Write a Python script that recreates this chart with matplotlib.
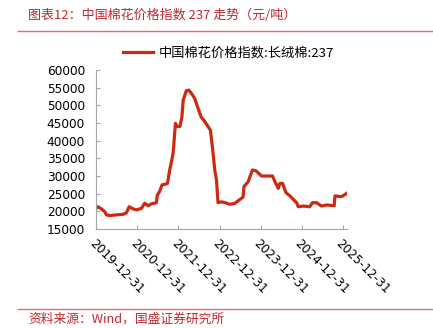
import matplotlib
matplotlib.use("Agg")
import matplotlib.pyplot as plt
import pandas as pd

plt.rcParams['font.family'] = ['Noto Sans CJK SC', 'DejaVu Sans']

dates = [
    "2019-12-28", "2020-01-15", "2020-02-14", "2020-03-15", "2020-03-30", "2020-04-28",
    "2020-06-26", "2020-08-25", "2020-09-24", "2020-10-18", "2020-11-22", "2020-12-22",
    "2021-02-05", "2021-03-05", "2021-04-04", "2021-05-03", "2021-06-17", "2021-06-26",
    "2021-07-16", "2021-08-07", "2021-09-06", "2021-09-24", "2021-10-14", "2021-11-13",
    "2021-12-04", "2021-12-19", "2022-01-12", "2022-01-30", "2022-02-11", "2022-03-11",
    "2022-04-01", "2022-04-25", "2022-05-24", "2022-06-23", "2022-07-22", "2022-08-12",
    "2022-09-20", "2022-10-11", "2022-11-04", "2022-11-19", "2022-12-04", "2022-12-18",
    "2023-01-18", "2023-02-17", "2023-04-01", "2023-05-16", "2023-06-15", "2023-07-28",
    "2023-08-06", "2023-09-12", "2023-10-20", "2023-11-19", "2024-01-09", "2024-02-23",
    "2024-04-16", "2024-05-07", "2024-06-06", "2024-06-20", "2024-07-14", "2024-08-13",
    "2024-09-18", "2024-10-17", "2024-11-16", "2024-12-01", "2025-01-15", "2025-03-13",
    "2025-04-06", "2025-05-12", "2025-06-26", "2025-08-10", "2025-10-17", "2025-10-23",
    "2025-12-22", "2026-01-12", "2026-02-05",
]
values = [
    20850, 21300, 20700, 19900, 19000, 18800,
    19000, 19150, 19600, 21300, 20700, 20400,
    20850, 22300, 21600, 22100, 22450, 24600,
    25600, 27500, 27700, 27900, 31700, 36400,
    44900, 44000, 44000, 46600, 51500, 54150,
    54300, 53400, 52000, 49150, 46600, 45850,
    44000, 43000, 36400, 31700, 28900, 22450,
    22700, 22450, 22000, 22250, 23000, 24000,
    27000, 28400, 31700, 31500, 30000, 30000,
    30000, 28400, 26500, 27900, 27900, 25300,
    24350, 23400, 22450, 21300, 21500, 21300,
    22450, 22450, 21500, 21800, 21600, 24350,
    24150, 24600, 25100,
]
tick_dates = ["2019-12-31", "2020-12-31", "2021-12-31", "2022-12-31",
              "2023-12-31", "2024-12-31", "2025-12-31"]
y_ticks = [15000, 20000, 25000, 30000, 35000, 40000, 45000, 50000, 55000, 60000]
series_name = "中国棉花价格指数:长绒棉:237"
title = "图表12：中国棉花价格指数 237 走势（元/吨）"
source = "资料来源：Wind，国盛证券研究所"

fig = plt.figure(figsize=(4.33, 3.28), dpi=100)
ax = fig.add_axes([0.2217, 0.3018, 0.801 - 0.2217, 0.7866 - 0.3018])

x = pd.to_datetime(dates)
line, = ax.plot(x, values, color="#CC2A10", lw=2.3, solid_joinstyle="round")

ax.set_ylim(15000, 60000)
ax.set_yticks(y_ticks)
ax.set_yticklabels([str(v) for v in y_ticks], fontsize=8.7, family="DejaVu Sans")
ax.set_xlim(pd.Timestamp("2019-12-28"), pd.Timestamp("2026-02-06"))
tx = pd.to_datetime(tick_dates)
ax.set_xticks(tx)
ax.set_xticklabels(tick_dates, rotation=-45, ha="left", va="top",
                   rotation_mode="anchor", fontsize=8.7, family="DejaVu Sans")

for s in ["top", "right"]:
    ax.spines[s].set_visible(False)
for s in ["left", "bottom"]:
    ax.spines[s].set_color("#A6A6A6")
    ax.spines[s].set_linewidth(0.8)
ax.tick_params(axis="both", direction="in", length=3, color="#A6A6A6", width=0.8)
ax.tick_params(axis="y", pad=8)
ax.tick_params(axis="x", pad=6)

fig.legend([line], [series_name], loc="center", bbox_to_anchor=(0.528, 1 - 53 / 328),
           frameon=False, fontsize=9.5, handlelength=2.3, handletextpad=0.4)

fig.text(28 / 433, 1 - 15 / 328, title, color="#C0282E", fontsize=9.4,
         style="italic", va="center", ha="left")
fig.add_artist(plt.Line2D([18 / 433, 1.0], [1 - 31 / 328] * 2, color="#E07070", lw=1.0,
                          transform=fig.transFigure))
fig.add_artist(plt.Line2D([18 / 433, 1.0], [1 - 309 / 328] * 2, color="#E07070", lw=1.0,
                          transform=fig.transFigure))
fig.text(28 / 433, 1 - 319 / 328, source, color="#C0282E", fontsize=9.2,
         style="italic", va="center", ha="left")

fig.savefig("out.png", dpi=100)
